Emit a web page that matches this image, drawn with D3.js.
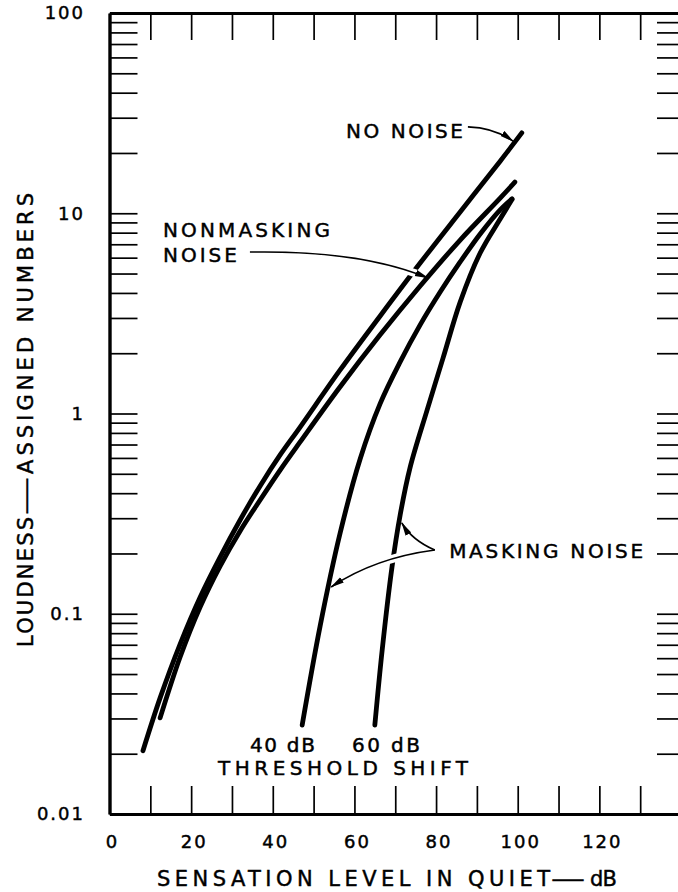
<!DOCTYPE html>
<html>
<head>
<meta charset="utf-8">
<script src="https://cdn.jsdelivr.net/npm/d3@7"></script>
<style>
  body { margin: 0; background: #fff; }
  svg { display: block; }
  text { fill: #000; stroke: #000; stroke-width: 0.45px; }
</style>
</head>
<body>
<svg width="678" height="892"></svg>
<script>
// Sensation level (dB) and loudness (assigned numbers)
const noNoiseDb   = [8.2, 12.4, 17.3, 22.2, 27.1, 32.0, 36.9, 41.8, 46.7, 56.5, 66.3, 76.1, 85.9, 95.7, 101];
const noNoiseLoud = [0.0207, 0.038, 0.0706, 0.121, 0.192, 0.294, 0.435, 0.621, 0.856, 1.65, 3.07, 5.64, 10.15, 18.2, 25.2];

const nonMaskDb   = [12.4, 17.3, 22.2, 27.1, 32.0, 36.9, 41.8, 46.7, 56.5, 66.3, 76.1, 85.9, 95.7, 99.3];
const nonMaskLoud = [0.0302, 0.0608, 0.108, 0.173, 0.259, 0.370, 0.522, 0.721, 1.36, 2.47, 4.33, 7.35, 11.9, 14.3];

const shift40Db   = [47.2, 51.6, 56.5, 61.4, 66.3, 71.2, 76.1, 81.0, 85.9, 90.8, 95.7, 98.6];
const shift40Loud = [0.0278, 0.0869, 0.253, 0.593, 1.12, 1.81, 2.77, 4.04, 5.71, 7.88, 10.4, 11.8];

const shift60Db   = [65.0, 66.8, 69.2, 71.2, 73.6, 77.8, 81.7, 85.9, 90.8, 95.7, 98.6];
const shift60Loud = [0.0278, 0.0659, 0.171, 0.311, 0.534, 1.04, 1.89, 3.60, 6.33, 9.36, 11.7];

const xTickValues  = [10, 20, 30, 40, 50, 60, 70, 80, 90, 100, 110, 120, 130];
const xLabelValues = [0, 20, 40, 60, 80, 100, 120];
const yLabelValues = [0.01, 0.1, 1, 10, 100];
const yLabelText   = ["0.01", "0.1", "1", "10", "100"];

const svg = d3.select("svg");
const font = "'DejaVu Sans', sans-serif";

const x = d3.scaleLinear().domain([0, 140]).range([109.5, 681]);
const y = d3.scaleLog().domain([0.01, 100]).range([814, 13]);

// Curves
const curves = [
  { db: noNoiseDb, loud: noNoiseLoud },
  { db: nonMaskDb, loud: nonMaskLoud },
  { db: shift40Db, loud: shift40Loud },
  { db: shift60Db, loud: shift60Loud }
];

const line = d3.line()
  .x(d => x(d[0]))
  .y(d => y(d[1]))
  .curve(d3.curveCatmullRom.alpha(0.5));

const plot = svg.append("g");
for (const c of curves) {
  plot.append("path")
    .attr("d", line(d3.zip(c.db, c.loud)))
    .attr("fill", "none")
    .attr("stroke", "#000")
    .attr("stroke-width", 4.8)
    .attr("stroke-linecap", "round");
}

// Frame and ticks
function styleAxis(g, w) {
  g.select(".domain").attr("stroke-width", w);
  g.selectAll(".tick line").attr("stroke-width", 1.7);
}
svg.append("g").attr("transform", "translate(0,814)")
  .call(d3.axisBottom(x).tickValues(xTickValues).tickSize(-28).tickSizeOuter(0).tickFormat(""))
  .call(g => styleAxis(g, 3));
svg.append("g").attr("transform", "translate(0,13)")
  .call(d3.axisTop(x).tickValues(xTickValues).tickSize(-27).tickSizeOuter(0).tickFormat(""))
  .call(g => styleAxis(g, 3));
svg.append("g").attr("transform", "translate(109.5,0)")
  .call(d3.axisLeft(y).tickValues(y.ticks()).tickSize(-28).tickSizeOuter(0).tickFormat(""))
  .call(g => styleAxis(g, 3.4));
svg.append("g").attr("transform", "translate(682,0)")
  .call(d3.axisRight(y).tickValues(y.ticks()).tickSize(-25).tickSizeOuter(0).tickFormat(""))
  .call(g => styleAxis(g, 3));

// Tick labels
svg.append("g").selectAll("text")
  .data(xLabelValues)
  .join("text")
  .attr("x", d => x(d) + 3)
  .attr("y", 848)
  .attr("text-anchor", "middle")
  .attr("font-family", font)
  .attr("font-size", 18)
  .attr("letter-spacing", 2)
  .text(d => d);

svg.append("g").selectAll("text")
  .data(yLabelValues)
  .join("text")
  .attr("x", 85)
  .attr("y", d => y(d))
  .attr("dy", "0.36em")
  .attr("text-anchor", "end")
  .attr("font-family", font)
  .attr("font-size", 18)
  .attr("letter-spacing", 2)
  .text((d, i) => yLabelText[i]);

// Axis titles: words, long dash, words
function title(g, parts) {
  for (const p of parts) {
    g.append("text")
      .attr("x", p.at).attr("y", 0)
      .attr("font-family", font).attr("font-size", 21)
      .attr("textLength", p.len)
      .attr("lengthAdjust", p.text === "\u2014" ? "spacingAndGlyphs" : "spacing")
      .text(p.text);
  }
}
title(svg.append("g").attr("transform", "translate(0,886)"), [
  { text: "SENSATION LEVEL IN QUIET", at: 157, len: 393 },
  { text: "\u2014", at: 551, len: 34 },
  { text: "dB", at: 590, len: 27 }
]);
title(svg.append("g").attr("transform", "translate(33,0) rotate(-90)"), [
  { text: "LOUDNESS", at: -647, len: 130 },
  { text: "\u2014", at: -515, len: 38 },
  { text: "ASSIGNED NUMBERS", at: -474, len: 281 }
]);

// Annotations, anchored in data units (dB, loudness)
const labels = [
  { text: "NO NOISE", db: 86.6, loud: 23.8, anchor: "end", len: 117 },
  { text: "NONMASKING", db: 13.1, loud: 7.6, anchor: "start", len: 167 },
  { text: "NOISE", db: 13.1, loud: 5.71, anchor: "start", len: 74 },
  { text: "MASKING NOISE", db: 83.2, loud: 0.19, anchor: "start", len: 194 },
  { text: "40 dB", db: 34.4, loud: 0.0204, anchor: "start", len: 65 },
  { text: "60 dB", db: 59.4, loud: 0.0204, anchor: "start", len: 68 },
  { text: "THRESHOLD SHIFT", db: 26.6, loud: 0.0157, anchor: "start", len: 250 }
];

svg.append("g").selectAll("text")
  .data(labels)
  .join("text")
  .attr("x", d => x(d.db))
  .attr("y", d => y(d.loud))
  .attr("text-anchor", d => d.anchor)
  .attr("font-family", font)
  .attr("font-size", 20)
  .attr("textLength", d => d.len)
  .attr("lengthAdjust", "spacing")
  .text(d => d.text);

// Leader arrows: start, control, tip
const arrows = [
  { from: [87.8, 27.0], ctrl: [94.4, 26.7], to: [98.85, 22.9] },
  { from: [34.4, 6.4], ctrl: [61.4, 6.55], to: [78.0, 4.75] },
  { from: [79.7, 0.208], ctrl: [74.1, 0.233], to: [71.6, 0.284] },
  { from: [79.7, 0.208], ctrl: [65.0, 0.19], to: [54.3, 0.136] }
];

svg.append("defs").append("marker")
  .attr("id", "head")
  .attr("viewBox", "0 -4 14 8")
  .attr("refX", 13).attr("refY", 0)
  .attr("markerWidth", 14).attr("markerHeight", 8)
  .attr("markerUnits", "userSpaceOnUse")
  .attr("orient", "auto")
  .append("path")
  .attr("d", "M0,-3.2L14,0L0,3.2Z")
  .attr("fill", "#000");

const arrowPath = a => {
  const p = d3.path();
  p.moveTo(x(a.from[0]), y(a.from[1]));
  p.quadraticCurveTo(x(a.ctrl[0]), y(a.ctrl[1]), x(a.to[0]), y(a.to[1]));
  return p.toString();
};

// white halo breaks the curves where a leader crosses them
const halos = svg.append("g");
for (const a of arrows) {
  const h = halos.append("path")
    .attr("d", arrowPath(a))
    .attr("fill", "none")
    .attr("stroke", "#fff")
    .attr("stroke-width", 8);
  const L = h.node().getTotalLength();
  h.attr("stroke-dasharray", `${Math.max(L - 12, 0)} ${L}`);
}

svg.append("g").selectAll("path")
  .data(arrows)
  .join("path")
  .attr("d", arrowPath)
  .attr("fill", "none")
  .attr("stroke", "#000")
  .attr("stroke-width", 1.6)
  .attr("marker-end", "url(#head)");
</script>
</body>
</html>
